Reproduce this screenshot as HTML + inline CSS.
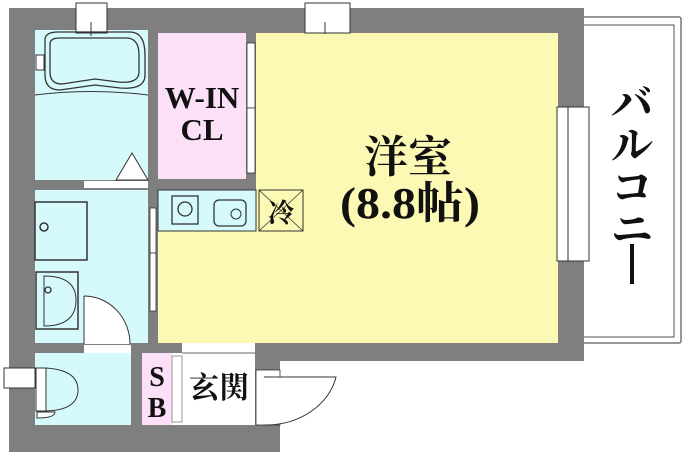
<!DOCTYPE html>
<html><head><meta charset="utf-8"><style>
html,body{margin:0;padding:0;background:#fff;}
svg{display:block;}
text{font-family:"Liberation Serif","Noto Serif CJK SC",serif;fill:#111;font-weight:bold;}
</style></head><body>
<svg width="684" height="455" viewBox="0 0 684 455" xmlns="http://www.w3.org/2000/svg">
<rect x="583" y="17" width="98" height="326" fill="#fff" stroke="#777" stroke-width="1.5" rx="2"/>
<rect x="583" y="25" width="91" height="312" fill="#fff" stroke="#555" stroke-width="1"/>
<rect x="9" y="8" width="575" height="353" fill="#7f7f7f"/>
<rect x="9" y="340" width="271" height="112" fill="#7f7f7f"/>
<rect x="256" y="33" width="302" height="310" fill="#fbf9b4"/>
<rect x="158" y="231" width="100" height="112" fill="#fbf9b4"/>
<rect x="158" y="33" width="88" height="146" fill="#fbe0f7"/>
<rect x="35" y="30" width="113" height="150" fill="#d6fafc"/>
<rect x="35" y="190" width="113" height="153" fill="#d6fafc"/>
<rect x="158" y="190" width="98" height="41" fill="#d6fafc" stroke="#333" stroke-width="1"/>
<rect x="259" y="190" width="44" height="41" fill="#fbf9b4" stroke="#333" stroke-width="1"/>
<line x1="259" y1="190" x2="303" y2="231" stroke="#333" stroke-width="0.8"/>
<line x1="303" y1="190" x2="259" y2="231" stroke="#333" stroke-width="0.8"/>
<rect x="35" y="353" width="96" height="72" fill="#d6fafc"/>
<rect x="142" y="353" width="30" height="72" fill="#fbe0f7"/>
<rect x="182" y="343" width="73" height="82" fill="#fff"/>
<rect x="172" y="353" width="10" height="72" fill="#fff"/>
<line x1="182" y1="353" x2="255" y2="353" stroke="#666"/>
<rect x="84" y="181" width="64" height="7" fill="#fff"/>
<rect x="84" y="345" width="47" height="8" fill="#fff"/>
<rect x="256" y="370" width="24" height="55" fill="#fff" stroke="#333" stroke-width="0.8"/>
<path d="M264 377 L336 377 A72 60 0 0 1 264 425" fill="#fff" stroke="#333" stroke-width="1"/>
<path d="M84 296 L84 344 L130 344 A46 48 0 0 0 84 296 Z" fill="#fff" stroke="none"/>
<path d="M84 296 A46 48 0 0 1 130 344" fill="none" stroke="#333" stroke-width="1"/>
<line x1="84" y1="296" x2="84" y2="344" stroke="#333"/>
<polygon points="116,180 132,153 148,180" fill="#fff" stroke="#333" stroke-width="1"/>
<rect x="247" y="43" width="8" height="65" fill="#fff" stroke="#333" stroke-width="0.8"/>
<rect x="247" y="108" width="8" height="65" fill="#fff" stroke="#333" stroke-width="0.8"/>
<rect x="150" y="208" width="6" height="45" fill="#fff" stroke="#333" stroke-width="0.8"/>
<rect x="150" y="253" width="6" height="58" fill="#fff" stroke="#333" stroke-width="0.8"/>
<rect x="76" y="3" width="31" height="30" fill="#fff" stroke="#333"/>
<line x1="91" y1="22" x2="91" y2="36" stroke="#333"/>
<rect x="305" y="3" width="45" height="30" fill="#fff" stroke="#333"/>
<line x1="325" y1="22" x2="325" y2="34" stroke="#333"/>
<rect x="557" y="107" width="32" height="154" fill="#fff" stroke="#333"/>
<line x1="568" y1="107" x2="568" y2="261" stroke="#333"/>
<rect x="4" y="368" width="31" height="20" fill="#fff" stroke="#333"/>
<rect x="172" y="356" width="10" height="66" fill="#fff" stroke="#555" stroke-width="0.6"/>
<path d="M45 40 Q45 32 58 32 L130 32 Q145 32 145 55 L145 75 Q145 90 120 88 L95 85 L60 90 Q45 90 45 75 Z" fill="none" stroke="#333" stroke-width="1.3"/>
<path d="M50 44 Q50 38 60 38 L126 38 Q139 38 139 55 L139 72 Q139 84 118 82 L95 79 L62 84 Q50 84 50 72 Z" fill="none" stroke="#333" stroke-width="1.3"/>
<path d="M35 95 Q90 88 148 95" fill="none" stroke="#333" stroke-width="1"/>
<rect x="36" y="55" width="8" height="15" fill="#fff" stroke="#333"/>
<rect x="35" y="202" width="52" height="58" fill="#d6fafc" stroke="#333" stroke-width="1.5"/>
<circle cx="44" cy="227" r="4" fill="none" stroke="#333" stroke-width="1.5"/>
<rect x="36" y="272" width="42" height="57" fill="#d6fafc" stroke="#333" stroke-width="1.5"/>
<path d="M44 276 Q76 276 76 300 Q76 326 44 326 Z" fill="#d6fafc" stroke="#333"/>
<circle cx="48" cy="290" r="3" fill="none" stroke="#333" stroke-width="1.3"/>
<rect x="172" y="196" width="26" height="28" fill="none" stroke="#333" stroke-width="1.3"/>
<circle cx="185" cy="209" r="7" fill="none" stroke="#333" stroke-width="1.3"/>
<rect x="214" y="200" width="32" height="26" rx="5" fill="none" stroke="#333" stroke-width="1.3"/>
<circle cx="236" cy="214" r="5" fill="none" stroke="#333"/>
<rect x="36" y="368" width="10" height="43" fill="#fff" stroke="#333"/>
<path d="M46 368 Q78 370 78 390 Q78 410 46 411 Z" fill="#d6fafc" stroke="#333"/>
<path d="M37 412 L55 412 Q55 418 37 418 Z" fill="#fff" stroke="#333"/>
<text x="202" y="108" font-size="31" text-anchor="middle" font-weight="normal">W-IN</text>
<text x="202" y="140" font-size="31" text-anchor="middle" font-weight="normal">CL</text>
<text x="408" y="172" font-size="44" text-anchor="middle">洋室</text>
<text x="410" y="218" font-size="44" text-anchor="middle" textLength="140" lengthAdjust="spacingAndGlyphs">(8.8帖)</text>
<text x="281" y="222" font-size="26" text-anchor="middle">冷</text>
<text x="157" y="386" font-size="28" text-anchor="middle" font-weight="normal">S</text>
<text x="157" y="417" font-size="28" text-anchor="middle" font-weight="normal">B</text>
<text x="219" y="398" font-size="30" text-anchor="middle">玄関</text>
<text x="632" y="118" font-size="42" text-anchor="middle">バ</text>
<text x="632" y="160" font-size="42" text-anchor="middle">ル</text>
<text x="632" y="202" font-size="42" text-anchor="middle">コ</text>
<text x="632" y="244" font-size="42" text-anchor="middle">ニ</text>
<rect x="630" y="244" width="4" height="40" fill="#111"/>
</svg>
</body></html>
